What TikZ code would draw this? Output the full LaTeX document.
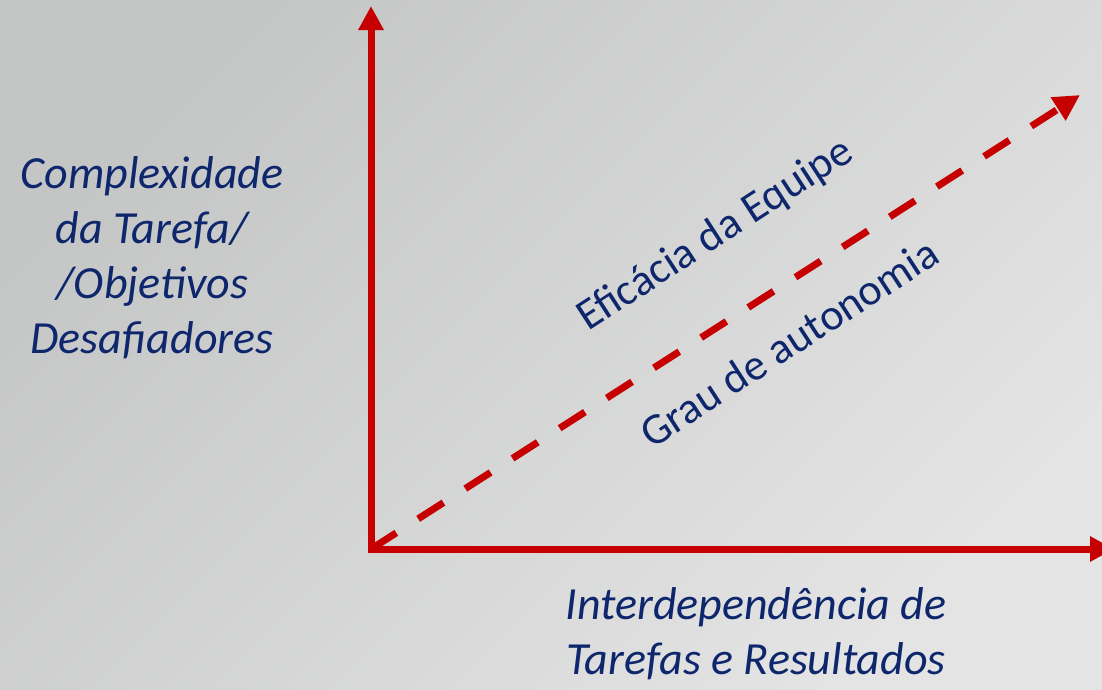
\documentclass[tikz,border=0pt]{standalone}
\usepackage{fontspec}
\setmainfont{Carlito}
\usetikzlibrary{arrows.meta}
\definecolor{axisred}{RGB}{198,0,0}
\definecolor{txtblue}{RGB}{14,38,108}
\definecolor{bgdark}{RGB}{196,197,197}
\definecolor{bglight}{RGB}{228,228,228}
\begin{document}
\begin{tikzpicture}[x=1pt,y=-1pt,
  axisline/.style={draw=axisred,line width=7pt,-{Triangle[width=24pt,length=24pt]}},
  diagline/.style={draw=axisred,line width=7pt,dash pattern=on 30pt off 26pt,-{Triangle[width=26pt,length=26pt]}},
  axislabel/.style={text=txtblue,font=\fontsize{46}{55}\selectfont\itshape,align=center,inner sep=0pt},
  diaglabel/.style={text=txtblue,font=\fontsize{44}{50}\selectfont,inner sep=0pt,anchor=base,rotate=33}]
\useasboundingbox (0,0) rectangle (1102,689);
\shade[top color=bgdark,bottom color=bglight,shading angle=45] (0,0) rectangle (1102,689);
\coordinate (O) at (371,549);
\coordinate (Ytop) at (371,6);
\coordinate (Xend) at (1114,549);
\coordinate (Dend) at (1080,95);
\draw[diagline] (O) -- (Dend);
\draw[axisline] ([yshift=-3.5pt]O) -- (Ytop);
\draw[axisline] ([xshift=-3.5pt]O) -- (Xend);
\node[axislabel,anchor=base] (ylab) at (152,353) {Complexidade\\da Tarefa/\\/Objetivos\\Desafiadores};
\node[axislabel,anchor=base] (xlab) at (756,674) {Interdependência de\\Tarefas e Resultados};
\node[diaglabel] (eff) at (722,245) {Eficácia da Equipe};
\node[diaglabel] (aut) at (797,355) {Grau de autonomia};
\end{tikzpicture}
\end{document}
